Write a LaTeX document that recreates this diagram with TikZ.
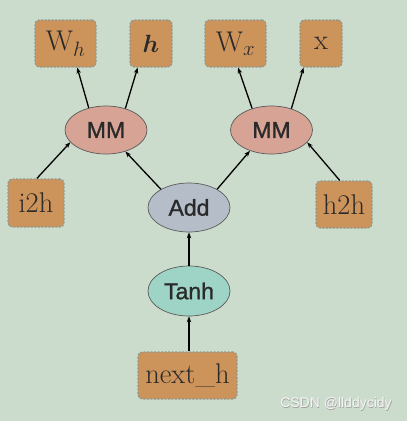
\documentclass[tikz,border=0pt]{standalone}
\usepackage{fontspec}
\usepackage{amsmath}
\usepackage{bm}
\newfontfamily\labelsans[FakeBold=1.2]{Liberation Sans}
\newfontfamily\markfont{Liberation Sans}
\usetikzlibrary{shapes.geometric,arrows.meta}
\definecolor{bgc}{HTML}{CCDCCC}
\definecolor{boxc}{HTML}{CC935B}
\definecolor{boxline}{HTML}{8A9A92}
\definecolor{mmc}{HTML}{D6A394}
\definecolor{addc}{HTML}{B5BEC8}
\definecolor{tanhc}{HTML}{9DD4C6}
\definecolor{ellline}{HTML}{5A5A5A}
\definecolor{txtc}{HTML}{2A2A2A}
\tikzset{
  varbox/.style={draw=boxline, fill=boxc, dash pattern=on 2pt off 1.5pt, line width=1.1pt,
    rounded corners=4pt, inner sep=0pt, font=\fontsize{28.5}{31}\selectfont, text=txtc},
  opnode/.style={ellipse, draw=ellline, line width=0.7pt, minimum width=82pt, minimum height=48pt,
    inner sep=0pt, font=\labelsans\fontsize{23}{26}\selectfont, text=txtc},
  conn/.style={-{Stealth[length=6pt,width=4.5pt]}, line width=1.3pt, black},
  marktext/.style={font=\markfont\fontsize{14}{16}\selectfont, inner sep=0pt},
}
\begin{document}
\begin{tikzpicture}[x=1pt,y=-1pt]
\fill[bgc] (0,0) rectangle (407,421);
\useasboundingbox (0,0) rectangle (407,421);
% variable boxes
\node[varbox, minimum width=61pt, minimum height=47pt] (wh) at (65.5,43.5) {$\mathrm{W}_h$};
\node[varbox, minimum width=42pt, minimum height=47pt] (h) at (151,43.5) {$\bm{h}$};
\node[varbox, minimum width=61pt, minimum height=47pt] (wx) at (235.5,43.5) {$\mathrm{W}_x$};
\node[varbox, minimum width=42pt, minimum height=47pt] (x) at (321,43.5) {$\mathrm{x}$};
\node[varbox, minimum width=56pt, minimum height=48pt] (i2h) at (36,203) {i2h};
\node[varbox, minimum width=56pt, minimum height=47pt] (h2h) at (344,204.5) {h2h};
\node[varbox, minimum width=99pt, minimum height=47pt] (nexth) at (187.5,375.5) {next\_h};
% operation nodes
\node[opnode, fill=mmc] (mm1) at (106,130) {MM};
\node[opnode, fill=mmc] (mm2) at (271.5,130) {MM};
\node[opnode, fill=addc, minimum height=49pt] (add) at (189,207.5) {Add};
\node[opnode, fill=tanhc, minimum height=50pt] (tanh) at (189,291) {Tanh};
% connectors
\draw[conn] (mm1.128) -- (wh.-64);
\draw[conn] (mm1.48) -- (h.-119);
\draw[conn] (mm2.132) -- (wx.-84);
\draw[conn] (mm2.47) -- (x.-126);
\draw[conn] (i2h.88) -- (mm1.-161);
\draw[conn] (add.147) -- (mm1.-48);
\draw[conn] (add.33) -- (mm2.-136);
\draw[conn] (h2h.100) -- (mm2.-19);
\draw[conn] (tanh.north) -- (add.south);
\draw[conn] (tanh.south |- nexth.north) -- (tanh.south);
% watermark
\node[marktext, text=gray!75] (wmshadow) at (336.6,404.6) {CSDN @llddycidy};
\node[marktext, text=white!92!gray] (wm) at (336,404) {CSDN @llddycidy};
\end{tikzpicture}
\end{document}
